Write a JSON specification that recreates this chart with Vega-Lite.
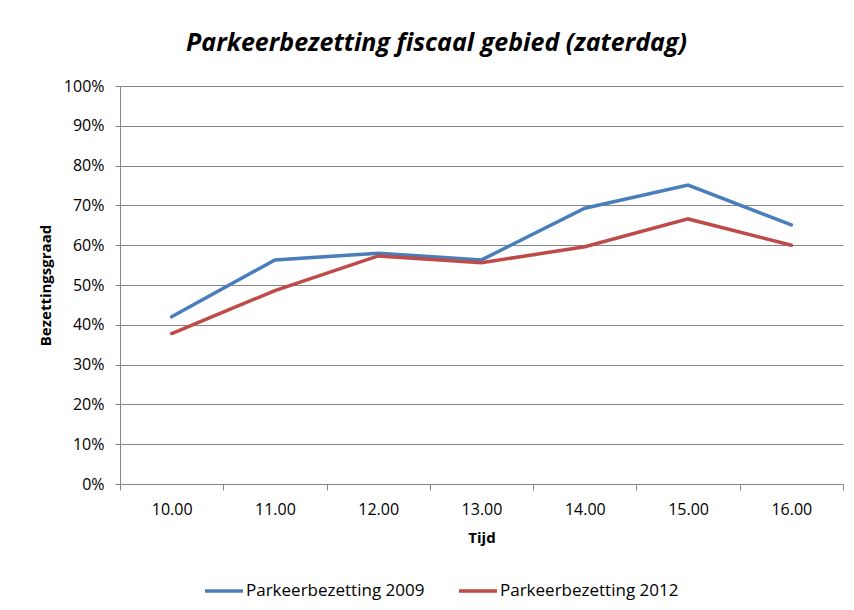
{
  "$schema": "https://vega.github.io/schema/vega-lite/v6.json",
  "width": 723,
  "height": 398,
  "autosize": "none",
  "padding": {"left": 120, "top": 86, "right": 11, "bottom": 126},
  "background": "white",
  "title": {
    "text": "Parkeerbezetting fiscaal gebied (zaterdag)",
    "font": "Open Sans",
    "fontSize": 25,
    "fontStyle": "italic",
    "fontWeight": "bold",
    "color": "#000000",
    "anchor": "middle",
    "dx": -45,
    "offset": 22
  },
  "config": {
    "view": {"stroke": null},
    "font": "Open Sans",
    "axis": {
      "labelFont": "Open Sans",
      "labelFontSize": 16,
      "labelColor": "#000000",
      "titleFont": "Open Sans",
      "titleFontSize": 15,
      "titleFontWeight": "bold",
      "titleColor": "#000000",
      "domainColor": "#868686",
      "tickColor": "#868686",
      "gridColor": "#868686",
      "gridWidth": 1
    }
  },
  "data": {
    "values": [
      {"Tijd": "10.00", "serie": "Parkeerbezetting 2009", "waarde": 0.42},
      {"Tijd": "11.00", "serie": "Parkeerbezetting 2009", "waarde": 0.563},
      {"Tijd": "12.00", "serie": "Parkeerbezetting 2009", "waarde": 0.58},
      {"Tijd": "13.00", "serie": "Parkeerbezetting 2009", "waarde": 0.563},
      {"Tijd": "14.00", "serie": "Parkeerbezetting 2009", "waarde": 0.693},
      {"Tijd": "15.00", "serie": "Parkeerbezetting 2009", "waarde": 0.751},
      {"Tijd": "16.00", "serie": "Parkeerbezetting 2009", "waarde": 0.651},
      {"Tijd": "10.00", "serie": "Parkeerbezetting 2012", "waarde": 0.378},
      {"Tijd": "11.00", "serie": "Parkeerbezetting 2012", "waarde": 0.486},
      {"Tijd": "12.00", "serie": "Parkeerbezetting 2012", "waarde": 0.573},
      {"Tijd": "13.00", "serie": "Parkeerbezetting 2012", "waarde": 0.556},
      {"Tijd": "14.00", "serie": "Parkeerbezetting 2012", "waarde": 0.596},
      {"Tijd": "15.00", "serie": "Parkeerbezetting 2012", "waarde": 0.666},
      {"Tijd": "16.00", "serie": "Parkeerbezetting 2012", "waarde": 0.60}
    ]
  },
  "mark": {"type": "line", "strokeWidth": 3.5, "strokeCap": "round"},
  "encoding": {
    "x": {
      "field": "Tijd",
      "type": "ordinal",
      "scale": {"paddingInner": 0, "paddingOuter": 0},
      "axis": {
        "title": "Tijd",
        "labelAngle": 0,
        "grid": false,
        "tickBand": "extent",
        "tickSize": 6,
        "labelPadding": 11,
        "titlePadding": 13
      }
    },
    "y": {
      "field": "waarde",
      "type": "quantitative",
      "scale": {"domain": [0, 1], "nice": false},
      "axis": {
        "title": "Bezettingsgraad",
        "format": ".0%",
        "values": [0, 0.1, 0.2, 0.3, 0.4, 0.5, 0.6, 0.7, 0.8, 0.9, 1],
        "tickSize": 5,
        "labelPadding": 11,
        "titlePadding": 10
      }
    },
    "color": {
      "field": "serie",
      "type": "nominal",
      "scale": {
        "domain": ["Parkeerbezetting 2009", "Parkeerbezetting 2012"],
        "range": ["#4A7EBB", "#BE4B48"]
      },
      "legend": {
        "title": null,
        "orient": "none",
        "legendX": 83,
        "legendY": 484,
        "direction": "horizontal",
        "symbolType": "stroke",
        "symbolSize": 1444,
        "symbolStrokeWidth": 3.5,
        "labelFont": "Open Sans",
        "labelFontSize": 17,
        "labelColor": "#000000",
        "labelLimit": 400,
        "columnPadding": 27,
        "labelOffset": 1
      }
    }
  }
}
